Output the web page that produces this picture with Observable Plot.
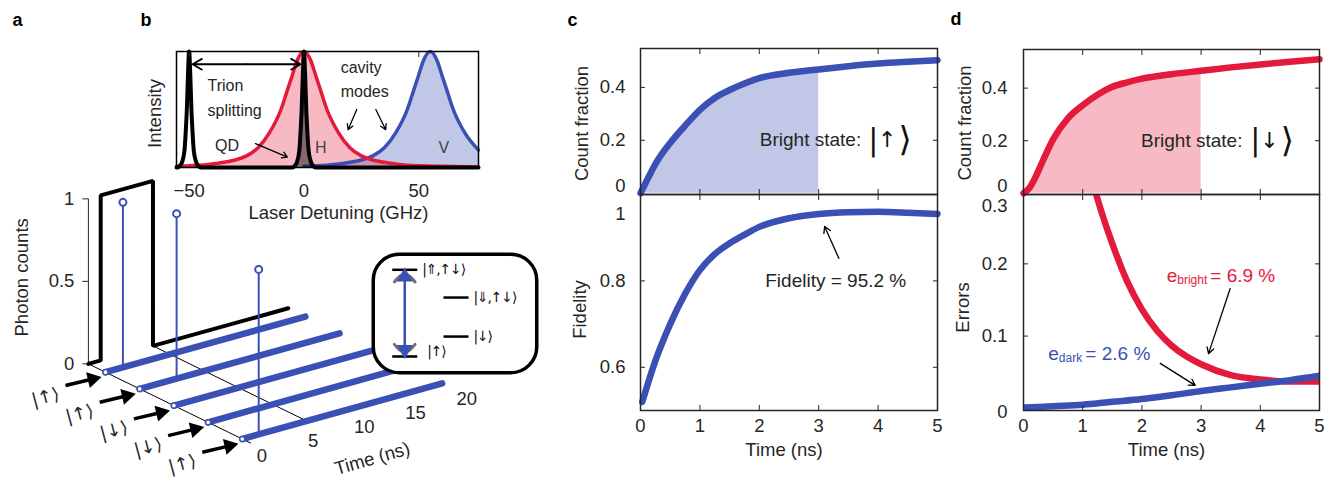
<!DOCTYPE html>
<html><head><meta charset="utf-8">
<script src="https://cdn.jsdelivr.net/npm/d3@7"></script>
<script src="https://cdn.jsdelivr.net/npm/@observablehq/plot@0.6"></script>
<style>
html,body{margin:0;padding:0;background:#fff;}
#fig{position:relative;width:1330px;height:484px;overflow:hidden;background:#fff;}
#fig svg{position:absolute;overflow:visible;background:transparent;}
</style></head><body><div id="fig"></div>
<script>
// ================= DATA =================
// Panel a : spin readout traces
const rowStates   = ["|↑⟩","|↑⟩","|↓⟩","|↓⟩","|↑⟩"];
const rowIndex    = [0,1,2,3,4];
const rowTimeSpan = [0, 19.5];
const timeTicksA  = [0,5,10,15,20];
const countTicksA = [0,0.5,1];
const laserTime   = [0, 1.2, 1.2, 6.3, 6.3, 19.5];
const laserCount  = [0, 0,   1,   1,   0,   0];
const floorLineTime = [0, 6.3];
const photonRow   = [0, 1, 4];
const photonTime  = [1.7, 3.6, 1.6];
const photonCount = [1, 1, 1];
// Panel a inset : level scheme
const levelLabel  = ["|⇑,↑↓⟩","|⇓,↑↓⟩","|↓⟩","|↑⟩"];
const levelEnergy = [1, 0.68, 0.23, 0];
const levelColumn = [0, 1, 1, 0];
// Panel b : spectra
const detuningTicks = [-50, 0, 50];
const detH = [-55.5,-50,-45,-40,-35,-30,-25,-20,-15,-10,-7,-5,-3,0,3,5,7,10,15,20,25,30,35,40,45,50,60,76];
const intH = [0.01,0.015,0.02,0.03,0.045,0.065,0.1,0.17,0.3,0.5,0.68,0.8,0.92,1,0.92,0.8,0.68,0.5,0.3,0.17,0.1,0.065,0.045,0.03,0.02,0.015,0.01,0.005];
const detV = [0,10,15,20,25,30,35,40,45,48,50,52,55,58,60,62,65,70,76];
const intV = [0.01,0.02,0.03,0.045,0.065,0.1,0.17,0.3,0.5,0.68,0.8,0.92,1,0.92,0.8,0.68,0.5,0.3,0.15];
const detQD = [-55.5,-55,-54,-53,-52,-51.5,-51,-50.5,-50,-49.5,-49,-48.5,-48,-47,-46,-45,-5,-4,-3,-2,-1.5,-1,-0.5,0,0.5,1,1.5,2,3,4,5,76];
const intQD = [0,0,0.015,0.05,0.15,0.3,0.5,0.8,1,0.8,0.5,0.3,0.15,0.05,0.015,0,0,0.015,0.05,0.15,0.3,0.5,0.8,1,0.8,0.5,0.3,0.15,0.05,0.015,0,0];
// Panel c
const timeTicks  = [0,1,2,3,4,5];
const countTicks = [0,0.2,0.4];
const fidTicks   = [0.6,0.8,1];
const errTicks   = [0,0.1,0.2,0.3];
const timeC   = [0,0.1,0.25,0.5,0.75,1,1.25,1.5,1.75,2,2.5,3,3.5,4,4.5,5];
const countUp = [0,0.045,0.11,0.19,0.255,0.315,0.36,0.39,0.415,0.435,0.455,0.468,0.48,0.49,0.497,0.503];
const timeF    = [0.03,0.25,0.5,0.75,1,1.25,1.5,1.75,2,2.5,3,3.5,4,4.5,5];
const fidelity = [0.52,0.615,0.7,0.77,0.825,0.862,0.887,0.907,0.925,0.945,0.955,0.959,0.96,0.958,0.955];
// Panel d
const timeD     = [0,0.1,0.2,0.3,0.5,0.75,1,1.25,1.5,1.75,2,2.5,3,3.5,4,4.5,5];
const countDown = [0,0.02,0.06,0.11,0.205,0.285,0.335,0.375,0.405,0.422,0.436,0.453,0.466,0.479,0.49,0.5,0.51];
const timeEB    = [1.1,1.25,1.5,1.75,2,2.25,2.5,2.75,3,3.5,4,4.5,5];
const errBright = [0.335,0.29,0.228,0.176,0.137,0.108,0.087,0.072,0.061,0.046,0.04,0.037,0.037];
const timeED    = [0,0.5,1,1.5,2,2.5,3,3.5,4,4.5,5];
const errDark   = [0.001,0.003,0.005,0.009,0.013,0.018,0.024,0.029,0.034,0.039,0.045];
const shadeEnd = 3;

// ================= STYLE =================
const FONT = "'Liberation Sans', Arial, Helvetica, sans-serif";
const KET  = "'DejaVu Sans', sans-serif";
const BLUE = "#3a50b4", RED = "#e41a3c", INK = "#262626";
const FS = 18.5;
const baseStyle = {fontFamily: FONT, fontSize: FS + "px", color: INK, background: "transparent", overflow: "visible"};
const fig = document.getElementById("fig");
function place(el, left, top) {
  el.style.position = "absolute"; el.style.left = left + "px"; el.style.top = top + "px";
  el.style.overflow = "visible"; el.style.background = "transparent";
  fig.appendChild(el);
}
const zip = (xs, ys) => xs.map((x, i) => ({x, y: ys[i]}));
const fmt = d => String(d);
const noAx = {axis: null, label: null};
const panelLetter = (s, dx, dy) => Plot.text([s], {frameAnchor: "top-left", dx, dy, text: d => d, textAnchor: "start", lineAnchor: "middle", fontWeight: "bold", fontSize: 18, fill: "black"});
const yTitle = (s, dx, dy) => Plot.text([s], {frameAnchor: "left", dx, dy, rotate: -90, textAnchor: "middle", lineAnchor: "middle", text: d => d, fontSize: FS, fill: INK});

// ================= PANEL A =================
const PRJ = {ox: 105, oy: 371.7, tx: 10.25, ty: -2.85, rx: 34.2, ry: 16.7, zz: 165};
const PX = (t, r) => PRJ.ox + PRJ.tx * t + PRJ.rx * r;
const PY = (t, r, z = 0) => PRJ.oy + PRJ.ty * t + PRJ.ry * r - PRJ.zz * z;
const BACK = -0.5, FRONT = 4.25;

const laser = laserTime.map((t, i) => ({X: PX(t, BACK), Y: PY(t, BACK, laserCount[i])}));
const rowsSeg = rowIndex.flatMap(r => rowTimeSpan.map(t => ({r, X: PX(t, r), Y: PY(t, r)})));
const stems = photonRow.map((r, i) => ({X: PX(photonTime[i], r), Y0: PY(photonTime[i], r, 0), Y1: PY(photonTime[i], r, photonCount[i])}));
const floorLines = floorLineTime.map((t, i) => ({x1: PX(t, BACK), y1: PY(t, BACK), x2: PX(t, i === 0 ? FRONT : 4), y2: PY(t, i === 0 ? FRONT : 4)}));
const rowsLab = rowIndex.map(r => ({r, label: rowStates[r], X: PX(0, r), Y: PY(0, r)}));

const plotA = Plot.plot({
  width: 545, height: 484, margin: 0,
  x: {type: "identity", ...noAx}, y: {type: "identity", ...noAx},
  style: baseStyle,
  marks: [
    Plot.link(floorLines, {x1: "x1", y1: "y1", x2: "x2", y2: "y2", stroke: "black", strokeWidth: 1}),
    Plot.link([0], {x1: () => PX(0, BACK), x2: () => PX(0, BACK), y1: () => PY(0, BACK, 0), y2: () => PY(0, BACK, 1), stroke: INK, strokeWidth: 1}),
    Plot.link(countTicksA, {x1: () => PX(0, BACK) - 6, x2: () => PX(0, BACK), y1: z => PY(0, BACK, z), y2: z => PY(0, BACK, z), stroke: INK, strokeWidth: 1}),
    Plot.text(countTicksA, {x: () => PX(0, BACK) - 14, y: z => PY(0, BACK, z), text: fmt, textAnchor: "end", fontSize: FS, fill: INK}),
    Plot.line(laser, {x: "X", y: "Y", stroke: "black", strokeWidth: 4, strokeLinejoin: "miter"}),
    Plot.line(rowsSeg, {x: "X", y: "Y", z: "r", stroke: BLUE, strokeWidth: 6.5, strokeLinecap: "round"}),
    Plot.dot(rowIndex, {x: r => PX(0, r), y: r => PY(0, r), r: 2.6, fill: "white", stroke: BLUE, strokeWidth: 1.5}),
    Plot.link(stems, {x1: "X", x2: "X", y1: "Y0", y2: "Y1", stroke: BLUE, strokeWidth: 2}),
    Plot.dot(stems, {x: "X", y: "Y1", r: 3.5, fill: "white", stroke: BLUE, strokeWidth: 2}),
    Plot.text(timeTicksA, {x: t => PX(t, FRONT), y: t => PY(t, FRONT), dx: 11, dy: 12.5, text: fmt, fontSize: FS, fill: INK}),
    Plot.text(["Time (ns)"], {x: () => PX(10, FRONT), y: () => PY(10, FRONT), dx: 19, dy: 44, rotate: -16, text: d => d, fontSize: FS, fill: INK}),
    Plot.text(["Photon counts"], {x: () => PX(0, BACK), y: () => PY(0, BACK, 0.5), dx: -66, dy: -4, rotate: -90, text: d => d, fontSize: FS, fill: INK}),
    Plot.link(rowsLab, {x1: d => d.X - 40, y1: d => d.Y + 13.3, x2: d => d.X - 16, y2: d => d.Y + 7.6, stroke: "black", strokeWidth: 3.5}),
    Plot.dot(rowsLab, {x: d => d.X - 13, y: d => d.Y + 6.9, symbol: "triangle", r: 6, rotate: 77, fill: "black"}),
    Plot.text(rowsLab, {x: d => d.X - 60, y: d => d.Y + 25, text: "label", rotate: -15, fontFamily: KET, fontSize: 18, fill: INK}),
    panelLetter("a", 12, 20)
  ]
});
place(plotA, 0, 0);

// Inset level scheme
const colStart = [0.124, 0.431], lineLen = 0.15;
const levels = levelLabel.map((label, i) => ({label, e: levelEnergy[i], c: levelColumn[i]}));
const arrowX = colStart[0] + lineLen / 2;
const arcTop = [{x: arrowX - 0.062, e: 0.86}, {x: arrowX - 0.03, e: 0.925}, {x: arrowX, e: 0.945}, {x: arrowX + 0.03, e: 0.925}, {x: arrowX + 0.062, e: 0.86}];
const arcBot = [{x: arrowX - 0.062, e: 0.14}, {x: arrowX - 0.03, e: 0.075}, {x: arrowX, e: 0.055}, {x: arrowX + 0.03, e: 0.075}, {x: arrowX + 0.062, e: 0.14}];
const plotInset = Plot.plot({
  width: 167, height: 122, margin: 0,
  x: {domain: [0, 1], range: [0, 167], ...noAx}, y: {domain: [0, 1], range: [104, 17.3], ...noAx},
  style: {...baseStyle, letterSpacing: "-1.2px"},
  marks: [
    Plot.frame({rx: 26, stroke: "black", strokeWidth: 3.5, fill: "white", inset: 1.75}),
    Plot.line(arcTop, {x: "x", y: "e", curve: "natural", stroke: "#707070", strokeWidth: 3}),
    Plot.line(arcBot, {x: "x", y: "e", curve: "natural", stroke: "#707070", strokeWidth: 3}),
    Plot.link(levels, {x1: d => colStart[d.c], x2: d => colStart[d.c] + lineLen, y1: "e", y2: "e", stroke: "black", strokeWidth: 2.5}),
    Plot.link([0], {x1: () => arrowX, x2: () => arrowX, y1: () => 0.08, y2: () => 0.92, stroke: BLUE, strokeWidth: 2.5}),
    Plot.dot([0.92], {x: () => arrowX, y: d => d, symbol: "triangle", r: 6, fill: BLUE}),
    Plot.dot([0.08], {x: () => arrowX, y: d => d, symbol: "triangle", r: 6, rotate: 180, fill: BLUE}),
    Plot.text(levels.filter(d => d.e > 0), {x: d => colStart[d.c] + lineLen + 0.03, y: "e", text: "label", textAnchor: "start", fontFamily: KET, fontSize: 14, fill: "#111"}),
    Plot.text(levels.filter(d => d.e === 0), {x: d => colStart[d.c] + lineLen + 0.06, y: "e", dy: -5, text: "label", textAnchor: "start", fontFamily: KET, fontSize: 14, fill: "#111"})
  ]
});
place(plotInset, 371, 252);

// ================= PANEL B =================
const bH = zip(detH, intH), bV = zip(detV, intV), bQD = zip(detQD, intQD);
const plotB = Plot.plot({
  width: 358, height: 200, marginLeft: 46, marginRight: 10, marginTop: 21, marginBottom: 63,
  x: {domain: [-55.5, 76], ...noAx}, y: {domain: [0, 1], ...noAx},
  style: baseStyle,
  marks: [
    Plot.areaY(bV, {x: "x", y: "y", fill: BLUE, fillOpacity: 0.32, curve: "monotone-x"}),
    Plot.areaY(bH, {x: "x", y: "y", fill: RED, fillOpacity: 0.3, curve: "monotone-x"}),
    Plot.lineY(bV, {x: "x", y: "y", stroke: BLUE, strokeWidth: 3.5, curve: "monotone-x"}),
    Plot.lineY(bH, {x: "x", y: "y", stroke: RED, strokeWidth: 3.5, curve: "monotone-x"}),
    Plot.areaY(bQD.filter(d => d.x > -6 && d.x < 6), {x: "x", y: "y", fill: "black", fillOpacity: 0.45, curve: "monotone-x"}),
    Plot.lineY(bQD, {x: "x", y: "y", stroke: "black", strokeWidth: 4, curve: "monotone-x"}),
    Plot.frame({stroke: "black", strokeWidth: 1.5}),
    Plot.axisX(detuningTicks, {tickSize: 0, tickPadding: 16, fontSize: FS, label: null, tickFormat: d => d < 0 ? "\u2212" + Math.abs(d) : String(d)}),
    Plot.axisX(detuningTicks, {anchor: "top", tickSize: -5, label: null, tickFormat: () => ""}),
    Plot.text(["Laser Detuning (GHz)"], {frameAnchor: "bottom", dx: 11, dy: 51, text: d => d, fontSize: FS, fill: INK}),
    yTitle("Intensity", -21, 4),
    Plot.arrow([0], {x1: () => -25, x2: () => -48.5, y1: () => 0.89, y2: () => 0.89, stroke: "black", strokeWidth: 1.8, headLength: 9}),
    Plot.arrow([0], {x1: () => -25, x2: () => -1.5, y1: () => 0.89, y2: () => 0.89, stroke: "black", strokeWidth: 1.8, headLength: 9}),
    Plot.text(["Trion"], {x: () => -42, y: () => 0.705, text: d => d, textAnchor: "start", fontSize: 16, fill: INK}),
    Plot.text(["splitting"], {x: () => -42, y: () => 0.49, text: d => d, textAnchor: "start", fontSize: 16, fill: INK}),
    Plot.text(["QD"], {x: () => -33.5, y: () => 0.19, text: d => d, fontSize: 16, fill: INK}),
    Plot.arrow([0], {x1: () => -21.1, y1: () => 0.206, x2: () => -7.2, y2: () => 0.09, stroke: "black", strokeWidth: 1.3, headLength: 7}),
    Plot.text(["cavity"], {x: () => 16, y: () => 0.863, text: d => d, textAnchor: "start", fontSize: 16, fill: INK}),
    Plot.text(["modes"], {x: () => 16, y: () => 0.648, text: d => d, textAnchor: "start", fontSize: 16, fill: INK}),
    Plot.arrow([0], {x1: () => 23, y1: () => 0.5, x2: () => 19.2, y2: () => 0.326, stroke: "black", strokeWidth: 1.3, headLength: 7}),
    Plot.arrow([0], {x1: () => 31.3, y1: () => 0.5, x2: () => 35.6, y2: () => 0.326, stroke: "black", strokeWidth: 1.3, headLength: 7}),
    Plot.text(["H"], {x: () => 7.3, y: () => 0.165, text: d => d, fontSize: 16, fill: "#444"}),
    Plot.text(["V"], {x: () => 60.9, y: () => 0.165, text: d => d, fontSize: 16, fill: "#444"}),
    panelLetter("b", -36, -31)
  ]
});
place(plotB, 130, 30);

// ================= PANELS C & D =================
function innerTicks(xt, yt) {
  const o = {tickSize: -5, tickFormat: () => "", label: null, stroke: INK};
  return [
    Plot.axisX(xt, {anchor: "top", ...o}),
    Plot.axisX(xt, {anchor: "bottom", ...o}),
    Plot.axisY(yt, {anchor: "left", ...o}),
    Plot.axisY(yt, {anchor: "right", ...o})
  ];
}
function yLabels(ticks, pad, dy = 0) {
  return Plot.axisY(ticks, {tickSize: 0, tickPadding: pad, dy, fontSize: FS, tickFormat: fmt, label: null});
}
function ket(x, y, arrow) {
  return [
    Plot.text(["|"], {x: () => x, y: () => y, dx: 4, text: d => d, fontFamily: KET, fontSize: 30, fill: "#111"}),
    Plot.text([arrow], {x: () => x, y: () => y, dx: 18, text: d => d, fontFamily: KET, fontSize: 22, fill: "#111"}),
    Plot.text(["⟩"], {x: () => x, y: () => y, dx: 36, text: d => d, fontFamily: KET, fontSize: 34, fill: "#111"})
  ];
}
const inner = timeTicks.filter(t => t > 0 && t < 5);

// c top
const cUp = zip(timeC, countUp);
const plotCtop = Plot.plot({
  width: 387, height: 484, marginLeft: 80, marginRight: 10, marginTop: 48, marginBottom: 290,
  x: {domain: [0, 5], ...noAx}, y: {domain: [-0.005, 0.547], ...noAx},
  style: baseStyle,
  marks: [
    Plot.areaY(cUp.filter(d => d.x <= shadeEnd), {x: "x", y: "y", fill: BLUE, fillOpacity: 0.32, curve: "monotone-x"}),
    Plot.lineY(cUp, {x: "x", y: "y", stroke: BLUE, strokeWidth: 6.5, curve: "monotone-x"}),
    Plot.frame({stroke: INK, strokeWidth: 1.5}),
    ...innerTicks(inner, countTicks.filter(d => d > 0)),
    yLabels(countTicks.filter(d => d > 0), 15),
    yLabels([0], 15, -7),
    yTitle("Count fraction", -58, 2),
    Plot.text(["Bright state:"], {x: () => 3.85, y: () => 0.2, dx: -8, textAnchor: "end", text: d => d, fontSize: 19, fill: INK}),
    ...ket(3.85, 0.2, "↑"),
    panelLetter("c", -73, -28)
  ]
});
place(plotCtop, 560, 0);

// c bottom
const cF = zip(timeF, fidelity);
const plotCbot = Plot.plot({
  width: 387, height: 484, marginLeft: 80, marginRight: 10, marginTop: 194, marginBottom: 74,
  x: {domain: [0, 5], ...noAx}, y: {domain: [0.5, 1.0], ...noAx},
  style: baseStyle,
  marks: [
    Plot.lineY(cF, {x: "x", y: "y", stroke: BLUE, strokeWidth: 6.5, curve: "monotone-x"}),
    Plot.frame({stroke: INK, strokeWidth: 1.5}),
    ...innerTicks(inner, fidTicks.filter(d => d < 1)),
    yLabels(fidTicks.filter(d => d < 1), 15),
    yLabels([1], 15, 20),
    Plot.axisX(timeTicks, {tickSize: 0, tickPadding: 8, fontSize: FS, tickFormat: fmt, label: null}),
    Plot.text(["Time (ns)"], {frameAnchor: "bottom", dx: -5, dy: 45, text: d => d, fontSize: FS, fill: INK}),
    yTitle("Fidelity", -60, 7),
    Plot.text(["Fidelity = 95.2 %"], {x: () => 2.1, y: () => 0.8, textAnchor: "start", text: d => d, fontSize: 19, fill: INK}),
    Plot.arrow([0], {x1: () => 3.34, y1: () => 0.852, x2: () => 3.1, y2: () => 0.926, stroke: "black", strokeWidth: 1.3, headLength: 8})
  ]
});
place(plotCbot, 560, 0);

// d top
const dDown = zip(timeD, countDown);
const plotDtop = Plot.plot({
  width: 387, height: 484, marginLeft: 80, marginRight: 11, marginTop: 49, marginBottom: 290,
  x: {domain: [0, 5], ...noAx}, y: {domain: [-0.005, 0.547], ...noAx},
  style: baseStyle,
  marks: [
    Plot.areaY(dDown.filter(d => d.x <= shadeEnd), {x: "x", y: "y", fill: RED, fillOpacity: 0.3, curve: "monotone-x"}),
    Plot.lineY(dDown, {x: "x", y: "y", stroke: RED, strokeWidth: 6.5, curve: "monotone-x"}),
    Plot.frame({stroke: INK, strokeWidth: 1.5}),
    ...innerTicks(inner, countTicks.filter(d => d > 0)),
    yLabels(countTicks.filter(d => d > 0), 16),
    yLabels([0], 16, -7),
    yTitle("Count fraction", -58, 1),
    Plot.text(["Bright state:"], {x: () => 3.85, y: () => 0.2, dx: -9, textAnchor: "end", text: d => d, fontSize: 19, fill: INK}),
    ...ket(3.85, 0.2, "↓"),
    panelLetter("d", -73, -30)
  ]
});
place(plotDtop, 943, 0);

// d bottom
const eB = zip(timeEB, errBright), eD = zip(timeED, errDark);
const plotDbot = Plot.plot({
  width: 387, height: 484, marginLeft: 80, marginRight: 11, marginTop: 194, marginBottom: 74,
  x: {domain: [0, 5], ...noAx}, y: {domain: [-0.003, 0.296], ...noAx},
  style: baseStyle,
  marks: [
    Plot.lineY(eB, {x: "x", y: "y", stroke: RED, strokeWidth: 6.5, curve: "monotone-x", clip: true}),
    Plot.lineY(eD, {x: "x", y: "y", stroke: BLUE, strokeWidth: 6.5, curve: "monotone-x", clip: true}),
    Plot.frame({stroke: INK, strokeWidth: 1.5}),
    ...innerTicks(inner, errTicks.filter(d => d > 0 && d < 0.3)),
    yLabels(errTicks.filter(d => d > 0 && d < 0.3), 16),
    yLabels([0], 16, 4),
    yLabels([0.3], 16, 14),
    Plot.axisX(timeTicks, {tickSize: 0, tickPadding: 8, fontSize: FS, tickFormat: fmt, label: null}),
    Plot.text(["Time (ns)"], {frameAnchor: "bottom", dx: -5, dy: 45, text: d => d, fontSize: FS, fill: INK}),
    yTitle("Errors", -60, 5),
    Plot.text(["e"], {x: () => 2.42, y: () => 0.184, textAnchor: "start", text: d => d, fontSize: 19, fill: RED}),
    Plot.text(["bright"], {x: () => 2.42, y: () => 0.184, dx: 10.5, dy: 5, textAnchor: "start", text: d => d, fontSize: 12, fill: RED}),
    Plot.text(["= 6.9 %"], {x: () => 2.42, y: () => 0.184, dx: 43.5, textAnchor: "start", text: d => d, fontSize: 19, fill: RED}),
    Plot.arrow([0], {x1: () => 3.49, y1: () => 0.1656, x2: () => 3.125, y2: () => 0.0757, stroke: "black", strokeWidth: 1.3, headLength: 8}),
    Plot.text(["e"], {x: () => 0.42, y: () => 0.076, textAnchor: "start", text: d => d, fontSize: 19, fill: BLUE}),
    Plot.text(["dark"], {x: () => 0.42, y: () => 0.076, dx: 10.5, dy: 5, textAnchor: "start", text: d => d, fontSize: 12, fill: BLUE}),
    Plot.text(["= 2.6 %"], {x: () => 0.42, y: () => 0.076, dx: 37, textAnchor: "start", text: d => d, fontSize: 19, fill: BLUE}),
    Plot.arrow([0], {x1: () => 2.31, y1: () => 0.0622, x2: () => 2.9, y2: () => 0.0318, stroke: "black", strokeWidth: 1.3, headLength: 8})
  ]
});
place(plotDbot, 943, 0);
</script></body></html>
